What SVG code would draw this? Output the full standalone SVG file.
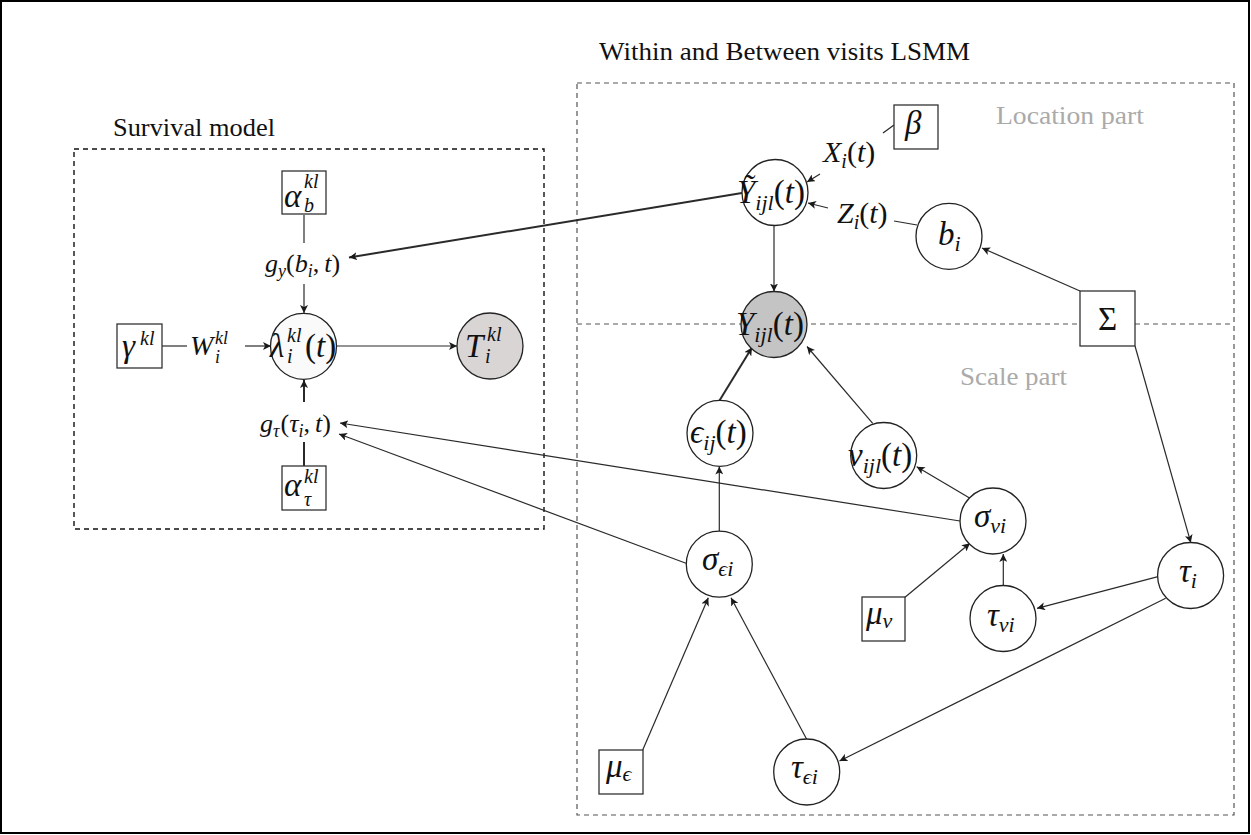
<svg xmlns="http://www.w3.org/2000/svg" width="1251" height="835" viewBox="0 0 1251 835">
<style>
text{font-family:"Liberation Serif","DejaVu Serif",serif;fill:#111}
.i{font-style:italic}
.n{font-style:normal}
.L{font-size:33px}
.X{font-size:30px}
.M{font-size:28px}
.G{font-size:26px}
.S{font-size:22px}
.R{font-size:20px}
.s{font-size:18px}
.title{font-size:26px}
.part{font-size:26px;fill:#aaa}
.nd{fill:#fff;stroke:#222;stroke-width:1.3}
.bx{fill:#fff;stroke:#333;stroke-width:1.3}
.c{fill:none;stroke:#2a2a2a;stroke-width:1.2}
.a{fill:none;stroke:#2a2a2a;stroke-width:1.2;marker-end:url(#ah)}
.t{stroke-width:2}
.dash1{fill:none;stroke:#111;stroke-width:1.4;stroke-dasharray:5 4}
.dash2{fill:none;stroke:#555;stroke-width:1.2;stroke-dasharray:5 4}
</style>
<defs>
<marker id="ah" markerUnits="userSpaceOnUse" markerWidth="10" markerHeight="8" refX="8" refY="4" orient="auto">
<path d="M0,0 L8,4 L0,8 L2,4 z" fill="#1a1a1a"/>
</marker>
</defs>
<rect x="1" y="1" width="1248" height="832" fill="#fff" stroke="#000" stroke-width="2"/>

<g id="frames">
<text class="title" x="113" y="136" textLength="162" lengthAdjust="spacingAndGlyphs">Survival model</text>
<rect class="dash1" x="74" y="149" width="470" height="380"/>
<text class="title" x="599" y="60" textLength="371" lengthAdjust="spacingAndGlyphs">Within and Between visits LSMM</text>
<rect class="dash2" x="577" y="83" width="657" height="732"/>
<line class="dash2" x1="577" y1="324" x2="1234" y2="324"/>
<text class="part" x="996" y="124" textLength="148" lengthAdjust="spacingAndGlyphs">Location part</text>
<text class="part" x="960" y="385" textLength="107" lengthAdjust="spacingAndGlyphs">Scale part</text>
</g>

<g id="connectors">
<line class="c" x1="304" y1="215" x2="304" y2="243"/>
<line class="a" x1="304" y1="284" x2="304" y2="313"/>
<line class="c" x1="162" y1="346" x2="187" y2="346"/>
<line class="a" x1="245" y1="346" x2="271" y2="346"/>
<line class="a" x1="337" y1="346" x2="457" y2="346"/>
<line class="a t" x1="304" y1="402" x2="304" y2="380"/>
<line class="c t" x1="304" y1="466" x2="304" y2="442"/>
<line class="c" x1="894" y1="125" x2="883" y2="133"/>
<line class="a" x1="820" y1="174" x2="807" y2="182"/>
<line class="a" x1="828" y1="208" x2="808" y2="203"/>
<line class="c" x1="917" y1="225" x2="894" y2="221"/>
<line class="a" x1="1080" y1="291" x2="982" y2="248"/>
<line class="a" x1="774" y1="226" x2="774" y2="291.5"/>
<line class="a t" x1="742" y1="193" x2="349" y2="257.5"/>
<line class="a t" x1="719.5" y1="400.5" x2="752" y2="347.5"/>
<line class="a" x1="872.7" y1="423.3" x2="807" y2="346.5"/>
<line class="a" x1="719.3" y1="531.5" x2="719.3" y2="466.5"/>
<line class="a" x1="970" y1="498.3" x2="916.7" y2="466.7"/>
<line class="a" x1="960" y1="521" x2="340" y2="423"/>
<line class="a" x1="686" y1="563.3" x2="339" y2="434"/>
<line class="a" x1="905" y1="597.3" x2="970" y2="543.3"/>
<line class="a" x1="1003.3" y1="586.7" x2="1003.3" y2="554"/>
<line class="a" x1="1135" y1="346" x2="1190.8" y2="542.7"/>
<line class="a" x1="1158" y1="576.7" x2="1037" y2="608.3"/>
<line class="a" x1="1165.7" y1="598.3" x2="839.5" y2="761"/>
<line class="a" x1="642.7" y1="750" x2="708.3" y2="597.7"/>
<line class="a" x1="806.7" y1="739.3" x2="731" y2="597.7"/>
</g>

<g id="alpha_b">
<rect class="bx" x="282" y="171" width="44" height="43"/>
<text class="i"><tspan class="L" x="284" y="207">α</tspan><tspan class="R" x="304" y="188">kl</tspan><tspan class="R" x="304" y="212">b</tspan></text>
</g>
<g id="g_y">
<text class="i G" x="265" y="272">g<tspan class="s" dy="5">y</tspan><tspan class="n" dy="-5">(</tspan>b<tspan class="s" dy="5">i</tspan><tspan class="n" dy="-5">,</tspan><tspan dx="5">t</tspan><tspan class="n">)</tspan></text>
</g>
<g id="gamma">
<rect class="bx" x="117" y="324" width="45" height="44"/>
<text class="i"><tspan class="L" x="122" y="357">γ</tspan><tspan class="R" x="140" y="345">kl</tspan></text>
</g>
<g id="W">
<text class="i"><tspan class="M" x="190" y="355">W</tspan><tspan class="s" x="215" y="344">kl</tspan><tspan class="s" x="215" y="363">i</tspan></text>
</g>
<g id="lambda">
<circle cx="303.5" cy="346.3" r="33" fill="#fafafa" stroke="#222" stroke-width="1.3"/>
<text class="i"><tspan class="L" x="270" y="357">λ</tspan><tspan class="R" x="287" y="342">kl</tspan><tspan class="R" x="287" y="363">i</tspan><tspan class="L n" x="305" y="357">(</tspan><tspan class="L">t</tspan><tspan class="L n">)</tspan></text>
</g>
<g id="T">
<circle cx="490" cy="346" r="33" fill="#d9d5d5" stroke="#222" stroke-width="1.3"/>
<text class="i"><tspan class="L" x="465" y="357">T</tspan><tspan class="R" x="487" y="341">kl</tspan><tspan class="R" x="485" y="363">i</tspan></text>
</g>
<g id="g_tau">
<text class="i G" x="260" y="432">g<tspan class="s" dy="5">τ</tspan><tspan class="n" dy="-5" dx="1">(</tspan>τ<tspan class="s" dy="5">i</tspan><tspan class="n" dy="-5">,</tspan><tspan dx="5">t</tspan><tspan class="n">)</tspan></text>
</g>
<g id="alpha_tau">
<rect class="bx" x="282" y="466" width="44" height="44"/>
<text class="i"><tspan class="L" x="284" y="496">α</tspan><tspan class="R" x="304" y="483">kl</tspan><tspan class="R" x="304" y="506">τ</tspan></text>
</g>

<g id="beta">
<rect class="bx" x="894" y="105" width="44" height="44"/>
<text class="i L" x="905" y="134">β</text>
</g>
<g id="X">
<text class="i X" x="823" y="162">X<tspan class="R" dy="6">i</tspan><tspan class="n" dy="-6">(</tspan>t<tspan class="n">)</tspan></text>
</g>
<g id="Z">
<text class="i X" x="837" y="223">Z<tspan class="R" dy="6">i</tspan><tspan class="n" dy="-6">(</tspan>t<tspan class="n">)</tspan></text>
</g>
<g id="Ytilde">
<circle class="nd" cx="775" cy="192.5" r="33"/>
<text class="i L" x="737" y="203">Ỹ<tspan class="S" dy="7">ijl</tspan><tspan class="n" dy="-7">(</tspan>t<tspan class="n">)</tspan></text>
</g>
<g id="b_i">
<circle class="nd" cx="949" cy="236.3" r="33"/>
<text class="i L" x="938" y="245">b<tspan class="S" dy="6">i</tspan></text>
</g>
<g id="Sigma">
<rect class="bx" x="1080" y="291" width="55" height="55"/>
<text class="n L" x="1107.5" y="330" text-anchor="middle">Σ</text>
</g>
<g id="Y">
<circle cx="774" cy="324.5" r="33" fill="#c4c4c4" stroke="#222" stroke-width="1.3"/>
<text class="i L" x="736" y="335">Y<tspan class="S" dy="7">ijl</tspan><tspan class="n" dy="-7">(</tspan>t<tspan class="n">)</tspan></text>
</g>
<g id="eps">
<circle class="nd" cx="720" cy="433.3" r="33"/>
<text class="i L" x="690" y="443">ϵ<tspan class="S" dy="7">ij</tspan><tspan class="n" dy="-7">(</tspan>t<tspan class="n">)</tspan></text>
</g>
<g id="nu">
<circle class="nd" cx="883.7" cy="455.5" r="33"/>
<text class="i L" x="848" y="466">ν<tspan class="S" dy="7">ijl</tspan><tspan class="n" dy="-7">(</tspan>t<tspan class="n">)</tspan></text>
</g>
<g id="sigma_nu">
<circle class="nd" cx="993" cy="521" r="33"/>
<text class="i L" x="974" y="527">σ<tspan class="S" dy="6">νi</tspan></text>
</g>
<g id="sigma_eps">
<circle class="nd" cx="719.3" cy="564.2" r="33"/>
<text class="i L" x="702" y="570">σ<tspan class="S" dy="6">ϵi</tspan></text>
</g>
<g id="mu_nu">
<rect class="bx" x="862" y="597" width="43" height="44"/>
<text class="i L" x="866" y="624">μ<tspan class="S" dy="4">ν</tspan></text>
</g>
<g id="tau_nu">
<circle class="nd" cx="1003" cy="618.5" r="33"/>
<text class="i L" x="987" y="626">τ<tspan class="S" dy="6">νi</tspan></text>
</g>
<g id="tau_i">
<circle class="nd" cx="1190.6" cy="575.5" r="33"/>
<text class="i L" x="1179" y="582">τ<tspan class="S" dy="6">i</tspan></text>
</g>
<g id="mu_eps">
<rect class="bx" x="599" y="750" width="44" height="44"/>
<text class="i L" x="606" y="777">μ<tspan class="S" dy="4">ϵ</tspan></text>
</g>
<g id="tau_eps">
<circle class="nd" cx="806.7" cy="772" r="33"/>
<text class="i L" x="791" y="778">τ<tspan class="S" dy="6">ϵi</tspan></text>
</g>
</svg>
